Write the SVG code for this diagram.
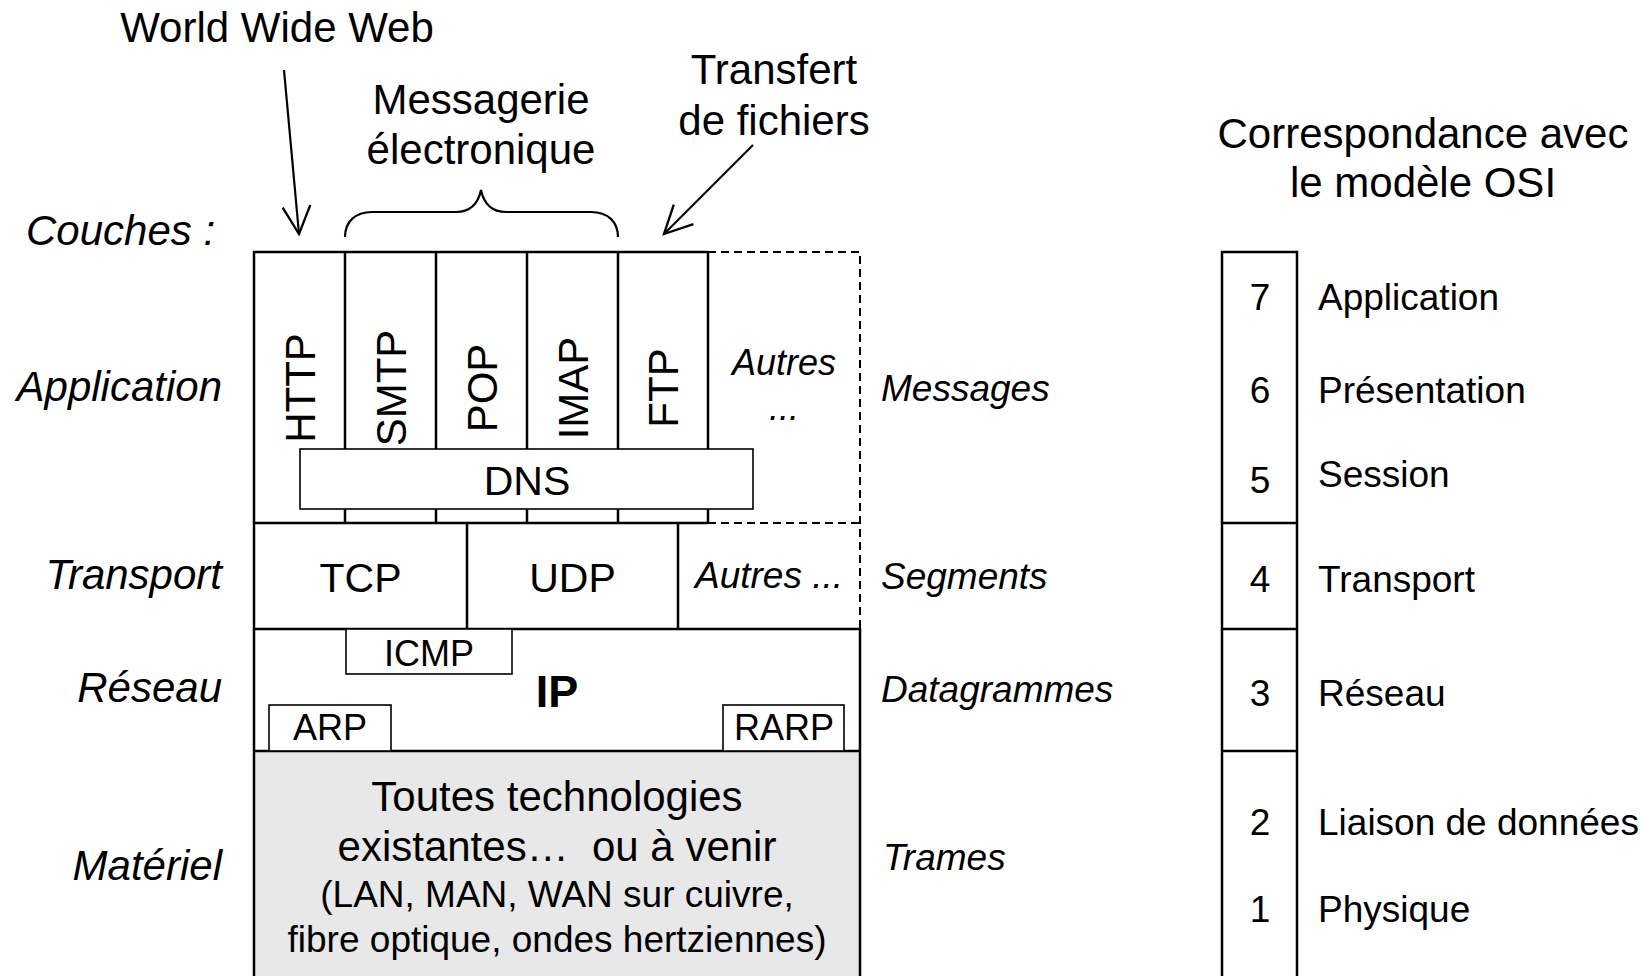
<svg xmlns="http://www.w3.org/2000/svg" width="1650" height="976" viewBox="0 0 1650 976">
<style>
  text { font-family: "Liberation Sans", Arial, sans-serif; fill: #000; }
  .h { font-size: 42px; text-anchor: middle; }
  .lbl { font-size: 42px; font-style: italic; text-anchor: end; }
  .pdu { font-size: 37px; font-style: italic; }
  .rot { font-size: 42px; text-anchor: middle; }
  .cell { font-size: 41px; text-anchor: middle; }
  .small { font-size: 36px; text-anchor: middle; }
  .it36 { font-size: 36px; font-style: italic; text-anchor: middle; }
  .gray { font-size: 42px; text-anchor: middle; }
  .gray2 { font-size: 37px; text-anchor: middle; }
  .osin { font-size: 37px; text-anchor: middle; }
  .osil { font-size: 37px; }
  .ln { stroke: #000; stroke-width: 2.5; fill: none; }
  .dash { stroke: #000; stroke-width: 2; fill: none; stroke-dasharray: 8 5; }
  .sub { stroke: #000; stroke-width: 1.6; fill: #fff; }
  .conn { stroke: #000; stroke-width: 2.2; fill: none; }
</style>
<defs>
  <marker id="open" markerUnits="userSpaceOnUse" markerWidth="32" markerHeight="32" viewBox="0 0 30 30" refX="28" refY="15" orient="auto">
    <path d="M2,2 L28,15 L2,28" fill="none" stroke="#000" stroke-width="2.2"/>
  </marker>
</defs>
<rect x="0" y="0" width="1650" height="976" fill="#fff"/>

<g id="annotations">
  <text class="h" x="277" y="42">World Wide Web</text>
  <text class="h" x="481" y="114">Messagerie</text>
  <text class="h" x="481" y="164">électronique</text>
  <text class="h" x="774" y="84">Transfert</text>
  <text class="h" x="774" y="135">de fichiers</text>
  <text class="lbl" x="26" y="245" style="text-anchor:start">Couches :</text>
</g>

<g id="connectors">
  <line class="conn" x1="284" y1="70" x2="299" y2="234" marker-end="url(#open)"/>
  <line class="conn" x1="753" y1="145" x2="664" y2="234" marker-end="url(#open)"/>
  <path class="conn" d="M345,237 C345,222 355,212 372,212 L456,212 C470,212 478,204 481,190 C484,204 492,212 506,212 L591,212 C608,212 618,222 618,237"/>
</g>

<g id="materiel">
  <rect x="254" y="751" width="606" height="240" fill="#e8e8e8"/>
  <text class="gray" x="557" y="811">Toutes technologies</text>
  <text class="gray" x="557" y="861" xml:space="preserve">existantes…  ou à venir</text>
  <text class="gray2" x="557" y="907">(LAN, MAN, WAN sur cuivre,</text>
  <text class="gray2" x="557" y="952">fibre optique, ondes hertziennes)</text>
</g>

<g id="stack-frame">
  <path class="ln" d="M254,990 L254,252 L708,252"/>
  <path class="ln" d="M254,523 L708,523 M254,629 L860,629 L860,990 M254,751 L860,751"/>
  <path class="ln" d="M345,252 L345,523 M436,252 L436,523 M527,252 L527,523 M618,252 L618,523 M708,252 L708,523"/>
  <path class="ln" d="M467,523 L467,629 M678,523 L678,629"/>
  <path class="dash" d="M708,252 L860,252 L860,629 M708,523 L860,523"/>
</g>

<g id="application">
  <text class="rot" transform="translate(314.5 388) rotate(-90)">HTTP</text>
  <text class="rot" transform="translate(405.5 388) rotate(-90)">SMTP</text>
  <text class="rot" transform="translate(496.5 388) rotate(-90)">POP</text>
  <text class="rot" transform="translate(587.5 388) rotate(-90)">IMAP</text>
  <text class="rot" transform="translate(678 388) rotate(-90)">FTP</text>
  <text class="it36" x="784" y="375">Autres</text>
  <text class="it36" x="784" y="420">...</text>
</g>

<g id="dns">
  <rect class="sub" x="300" y="449" width="453" height="60"/>
  <text class="cell" x="527" y="495">DNS</text>
</g>

<g id="transport">
  <text class="cell" x="360.5" y="592">TCP</text>
  <text class="cell" x="572.5" y="592">UDP</text>
  <text class="it36" x="769" y="588" style="font-size:37px">Autres ...</text>
</g>

<g id="reseau">
  <text x="557" y="707" style="font-size:45px;font-weight:bold;text-anchor:middle">IP</text>
</g>
<g id="icmp">
  <rect class="sub" x="346" y="629" width="166" height="45"/>
  <text class="small" x="429" y="666">ICMP</text>
</g>
<g id="arp">
  <rect class="sub" x="269" y="705" width="122" height="46"/>
  <text class="small" x="330" y="740">ARP</text>
</g>
<g id="rarp">
  <rect class="sub" x="723" y="705" width="121" height="46"/>
  <text class="small" x="784" y="740">RARP</text>
</g>

<g id="layer-labels">
  <text class="lbl" x="222" y="401">Application</text>
  <text class="lbl" x="222" y="589">Transport</text>
  <text class="lbl" x="222" y="702">Réseau</text>
  <text class="lbl" x="222" y="880">Matériel</text>
</g>

<g id="pdu-labels">
  <text class="pdu" x="881" y="401">Messages</text>
  <text class="pdu" x="881" y="589">Segments</text>
  <text class="pdu" x="881" y="702">Datagrammes</text>
  <text class="pdu" x="883" y="870">Trames</text>
</g>

<g id="osi">
  <text class="h" x="1423" y="148">Correspondance avec</text>
  <text class="h" x="1423" y="197">le modèle OSI</text>
  <path class="ln" d="M1222,990 L1222,252 L1297,252 L1297,990 M1222,523 L1297,523 M1222,629 L1297,629 M1222,751 L1297,751"/>
  <text class="osin" x="1260" y="310">7</text>
  <text class="osin" x="1260" y="403">6</text>
  <text class="osin" x="1260" y="493">5</text>
  <text class="osin" x="1260" y="592">4</text>
  <text class="osin" x="1260" y="706">3</text>
  <text class="osin" x="1260" y="835">2</text>
  <text class="osin" x="1260" y="922">1</text>
  <text class="osil" x="1318" y="310">Application</text>
  <text class="osil" x="1318" y="403">Présentation</text>
  <text class="osil" x="1318" y="487">Session</text>
  <text class="osil" x="1318" y="592">Transport</text>
  <text class="osil" x="1318" y="706">Réseau</text>
  <text class="osil" x="1318" y="835">Liaison de données</text>
  <text class="osil" x="1318" y="922">Physique</text>
</g>
</svg>
